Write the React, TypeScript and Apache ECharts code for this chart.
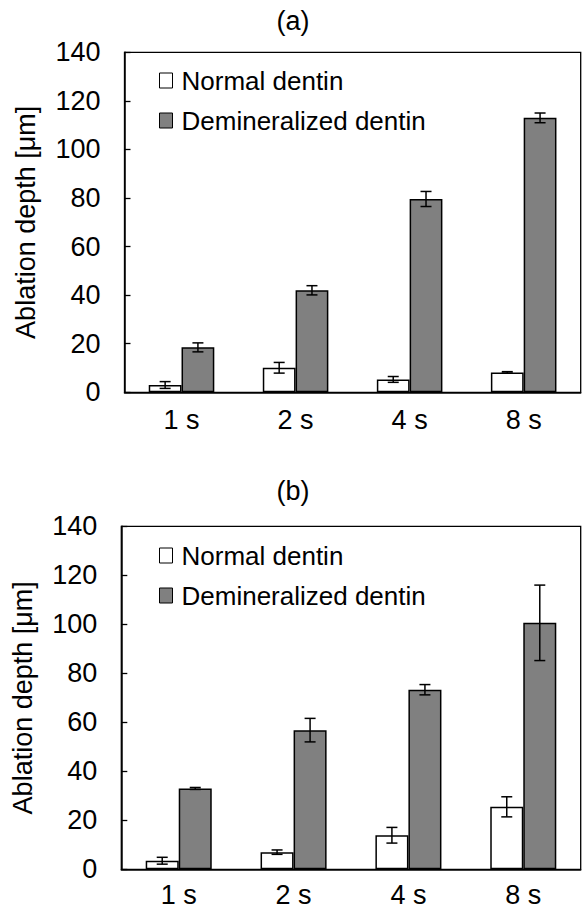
import React, { useEffect, useRef } from "react";
import * as echarts from "echarts";

const categories = ["1 s", "2 s", "4 s", "8 s"];
const yTicks = [0, 20, 40, 60, 80, 100, 120, 140];

const normalA = [3.0, 10.1, 5.3, 8.2];
const normalAErr = [1.4, 2.2, 1.2, 0.3];
const deminA = [18.5, 42.0, 79.6, 113.0];
const deminAErr = [1.85, 1.9, 3.1, 2.0];

const normalB = [3.5, 7.0, 13.9, 25.5];
const normalBErr = [1.4, 0.9, 3.2, 4.1];
const deminB = [33.0, 56.8, 73.3, 100.6];
const deminBErr = [0.4, 4.8, 2.1, 15.4];

const panelTitles = ["(a)", "(b)"];
const seriesNames = ["Normal dentin", "Demineralized dentin"];
const yAxisName = "Ablation depth [\u03bcm]";

const FONT = "'Liberation Sans', Arial, sans-serif";
const CAT_GAP = 0.425;

function errSeries(axisIdx: number, vals: number[], errs: number[], side: number) {
  return {
    type: "custom",
    xAxisIndex: axisIdx,
    yAxisIndex: axisIdx,
    silent: true,
    z: 5,
    data: vals.map((v, i) => [i, v, errs[i]]),
    renderItem: (params: any, api: any) => {
      const x = api.value(0);
      const v = api.value(1);
      const e = api.value(2);
      const catW = api.size([1, 0])[0];
      const bw = (catW * (1 - CAT_GAP)) / 2;
      const cx = api.coord([x, v])[0] + (side * bw) / 2;
      const top = api.coord([x, v + e])[1];
      const bot = api.coord([x, v - e])[1];
      const cap = 5.5;
      const st = { stroke: "#000", lineWidth: 1.5 };
      return {
        type: "group",
        children: [
          { type: "line", shape: { x1: cx, y1: top, x2: cx, y2: bot }, style: st },
          { type: "line", shape: { x1: cx - cap, y1: top, x2: cx + cap, y2: top }, style: st },
          { type: "line", shape: { x1: cx - cap, y1: bot, x2: cx + cap, y2: bot }, style: st },
        ],
      };
    },
  };
}

function barSeries(axisIdx: number, name: string, vals: number[], color: string) {
  return {
    type: "bar",
    name,
    xAxisIndex: axisIdx,
    yAxisIndex: axisIdx,
    data: vals,
    barGap: "0%",
    barCategoryGap: CAT_GAP * 100 + "%",
    itemStyle: { color, borderColor: "#000", borderWidth: 1.5 },
  };
}

export default function App() {
  const ref = useRef<HTMLDivElement>(null);
  useEffect(() => {
    if (!ref.current) return;
    const chart = echarts.init(ref.current, undefined, { renderer: "svg" });
    const grids = [
      { left: 124.5, top: 52.3, right: 1.3, height: 340 },
      { left: 121.3, top: 526.3, right: 1.3, height: 343 },
    ];
    const legendTops = [61.5, 536.5];
    const titleYs = [21, 491];
    const xMargins = [14, 12];
    const makeX = (i: number) => ({
      type: "category",
      gridIndex: i,
      data: categories,
      axisLine: { show: true, lineStyle: { color: "#000", width: 1.5 } },
      axisTick: { show: false },
      axisLabel: { color: "#000", fontSize: 27, lineHeight: 27, fontFamily: FONT, margin: xMargins[i] },
    });
    const makeY = (i: number) => ({
      type: "value",
      gridIndex: i,
      min: yTicks[0],
      max: yTicks[yTicks.length - 1],
      interval: 20,
      name: yAxisName,
      nameLocation: "middle",
      nameGap: 85,
      nameTextStyle: { color: "#000", fontSize: 27, fontFamily: FONT },
      axisLine: { show: true, lineStyle: { color: "#000", width: 1.5 } },
      axisTick: { show: true, inside: true, length: 6, lineStyle: { color: "#000", width: 1.3 } },
      splitLine: { show: false },
      axisLabel: { color: "#000", fontSize: 27, fontFamily: FONT, margin: 24 },
    });
    const legendData = [
      { name: seriesNames[0], itemStyle: { color: "#fff", borderColor: "#000", borderWidth: 1 } },
      { name: seriesNames[1], itemStyle: { color: "#808080", borderColor: "#000", borderWidth: 1 } },
    ];
    chart.setOption({
      animation: false,
      backgroundColor: "#fff",
      grid: grids.map((g) => ({ ...g, show: true, borderColor: "#000", borderWidth: 1.3, backgroundColor: "transparent" })),
      xAxis: [makeX(0), makeX(1)],
      yAxis: [makeY(0), makeY(1)],
      legend: legendTops.map((t) => ({
        orient: "vertical",
        left: 154,
        top: t,
        itemWidth: 13,
        itemHeight: 15,
        itemGap: 12,
        icon: "rect",
        selectedMode: false,
        data: legendData,
        textStyle: { color: "#000", fontSize: 26, fontFamily: FONT, lineHeight: 28, padding: [0, 0, 0, 4] },
      })),
      graphic: titleYs.map((y, i) => ({
        type: "text",
        x: 293,
        y,
        style: {
          text: panelTitles[i],
          fill: "#000",
          font: `27px ${FONT}`,
          align: "center",
          verticalAlign: "middle",
        },
      })),
      series: [
        barSeries(0, seriesNames[0], normalA, "#ffffff"),
        barSeries(0, seriesNames[1], deminA, "#808080"),
        barSeries(1, seriesNames[0], normalB, "#ffffff"),
        barSeries(1, seriesNames[1], deminB, "#808080"),
        errSeries(0, normalA, normalAErr, -1),
        errSeries(0, deminA, deminAErr, 1),
        errSeries(1, normalB, normalBErr, -1),
        errSeries(1, deminB, deminBErr, 1),
      ],
    });
    return () => chart.dispose();
  }, []);
  return (
    <div
      ref={ref}
      style={{ position: "absolute", left: 0, top: 0, width: 582, height: 909 }}
    />
  );
}
